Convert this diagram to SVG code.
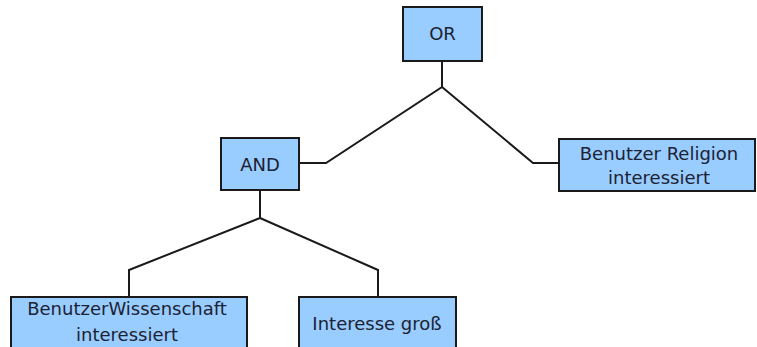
<svg xmlns="http://www.w3.org/2000/svg" width="757" height="347" viewBox="0 0 757 347">
  <style>
    .box { fill: #99ccff; stroke: #1a1a1a; stroke-width: 2; }
    .lbl { font-family: "DejaVu Sans", "Liberation Sans", sans-serif; font-size: 18px; fill: #1c2233; text-anchor: middle; }
    .wire { fill: none; stroke: #1a1a1a; stroke-width: 2; stroke-linejoin: miter; }
  </style>
  <rect width="757" height="347" fill="#ffffff"/>

  <g id="connectors">
    <path class="wire" d="M442,61 V87 L326,163 H299"/>
    <path class="wire" d="M442,87 L533,163 H559"/>
    <path class="wire" d="M260,190 V218 L129,270 V297"/>
    <path class="wire" d="M260,218 L378,270 V297"/>
  </g>

  <g id="or">
    <rect class="box" x="403" y="7" width="79" height="54"/>
    <text class="lbl" x="442.5" y="40">OR</text>
  </g>

  <g id="and">
    <rect class="box" x="221" y="138" width="78" height="52"/>
    <text class="lbl" x="260" y="171">AND</text>
  </g>

  <g id="religion">
    <rect class="box" x="559" y="139" width="196" height="52"/>
    <text class="lbl" x="659" y="160">Benutzer Religion</text>
    <text class="lbl" x="659" y="184">interessiert</text>
  </g>

  <g id="wissenschaft">
    <rect class="box" x="11" y="297" width="236" height="60"/>
    <text class="lbl" x="127" y="315">BenutzerWissenschaft</text>
    <text class="lbl" x="127" y="341">interessiert</text>
  </g>

  <g id="interesse">
    <rect class="box" x="299" y="297" width="157" height="60"/>
    <text class="lbl" x="377" y="330">Interesse groß</text>
  </g>
</svg>
